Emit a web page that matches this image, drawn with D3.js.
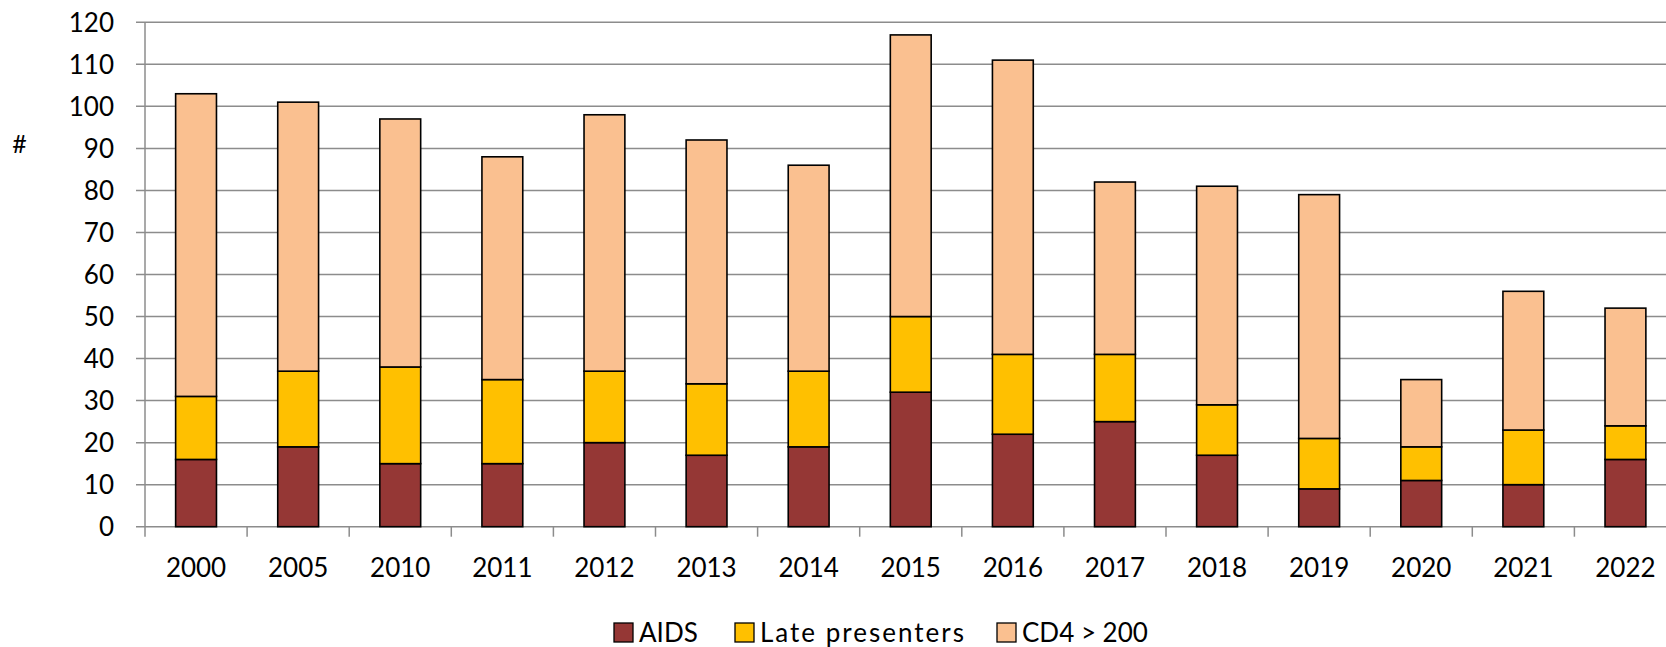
<!DOCTYPE html>
<html>
<head>
<meta charset="utf-8">
<script src="https://cdn.jsdelivr.net/npm/d3@7"></script>
<style>
  body { margin: 0; background: #fff; }
  text { font-family: Lato, "Open Sans", sans-serif; fill: #000; }
</style>
</head>
<body>
<div id="chart-area"></div>
<script>
// Datos
const years = ["2000", "2005", "2010", "2011", "2012", "2013", "2014", "2015", "2016", "2017", "2018", "2019", "2020", "2021", "2022"];
const aids = [16, 19, 15, 15, 20, 17, 19, 32, 22, 25, 17, 9, 11, 10, 16];
const latePresenters = [15, 18, 23, 20, 17, 17, 18, 18, 19, 16, 12, 12, 8, 13, 8];
const cd4Over200 = [72, 64, 59, 53, 61, 58, 49, 67, 70, 41, 52, 58, 16, 33, 28];
const seriesNames = ["AIDS", "Late presenters", "CD4 > 200"];
const seriesColors = ["#953735", "#FFC000", "#FAC090"];
const yTicks = [0, 10, 20, 30, 40, 50, 60, 70, 80, 90, 100, 110, 120];

// Lienzo
const W = 1666, H = 647;
const axisX = 145, plotRight = 1676.5;
const yTop = 22.3, yBottom = 526.7;

const svg = d3.select("#chart-area")
    .append("svg")
    .attr("width", W)
    .attr("height", H);

// Tabla para el stack
const table = years.map((yr, i) => ({
    year: yr,
    "AIDS": aids[i],
    "Late presenters": latePresenters[i],
    "CD4 > 200": cd4Over200[i]
}));

// Escalas
const x = d3.scaleBand()
    .domain(years)
    .range([axisX, plotRight])
    .paddingInner(0.6)
    .paddingOuter(0.3);

const y = d3.scaleLinear()
    .domain([0, 120])
    .range([yBottom, yTop]);

const color = d3.scaleOrdinal().domain(seriesNames).range(seriesColors);

// Rejilla horizontal
svg.append("g")
    .selectAll("line")
    .data(yTicks)
    .enter().append("line")
    .attr("x1", axisX - 9)
    .attr("x2", W)
    .attr("y1", d => y(d))
    .attr("y2", d => y(d))
    .attr("stroke", "#8c8c8c")
    .attr("stroke-width", 1.5);

// Eje Y
svg.append("line")
    .attr("x1", axisX).attr("x2", axisX)
    .attr("y1", y(120)).attr("y2", y(0) + 10)
    .attr("stroke", "#8c8c8c")
    .attr("stroke-width", 1.5);

svg.append("g")
    .selectAll("text")
    .data(yTicks)
    .enter().append("text")
    .attr("x", axisX - 31)
    .attr("y", d => y(d))
    .attr("dy", "0.36em")
    .attr("text-anchor", "end")
    .style("font-size", "26px")
    .text(d => d);

svg.append("text")
    .attr("x", 19.5)
    .attr("y", 144)
    .attr("dy", "0.36em")
    .attr("text-anchor", "middle")
    .style("font-size", "25px")
    .text("#");

// Marcas del eje X entre categorías
const step = x.step();
svg.append("g")
    .selectAll("line")
    .data(d3.range(1, years.length + 1))
    .enter().append("line")
    .attr("x1", i => axisX + i * step)
    .attr("x2", i => axisX + i * step)
    .attr("y1", y(0))
    .attr("y2", y(0) + 10)
    .attr("stroke", "#8c8c8c")
    .attr("stroke-width", 1.5);

svg.append("g")
    .selectAll("text")
    .data(years)
    .enter().append("text")
    .attr("x", d => x(d) + x.bandwidth() / 2)
    .attr("y", 577)
    .attr("text-anchor", "middle")
    .style("font-size", "26px")
    .text(d => d);

// Barras apiladas
const stacked = d3.stack().keys(seriesNames)(table);

svg.append("g")
    .selectAll("g")
    .data(stacked)
    .enter().append("g")
    .attr("fill", d => color(d.key))
    .selectAll("rect")
    .data(d => d)
    .enter().append("rect")
    .attr("x", d => x(d.data.year))
    .attr("width", x.bandwidth())
    .attr("y", d => y(d[1]))
    .attr("height", d => y(d[0]) - y(d[1]))
    .attr("stroke", "#000")
    .attr("stroke-width", 1.6);

// Leyenda
const legendX = [614, 735, 997];
const legend = svg.append("g");
const item = legend.selectAll("g")
    .data(seriesNames)
    .enter().append("g")
    .attr("transform", (d, i) => `translate(${legendX[i]}, 623)`);

item.append("rect")
    .attr("width", 19)
    .attr("height", 19)
    .attr("fill", d => color(d))
    .attr("stroke", "#000")
    .attr("stroke-width", 1.3);

item.append("text")
    .attr("x", 25)
    .attr("y", 9.5)
    .attr("dy", "0.36em")
    .style("font-size", "26px")
    .style("letter-spacing", d => d === "Late presenters" ? "2px" : null)
    .text(d => d);
</script>
</body>
</html>
